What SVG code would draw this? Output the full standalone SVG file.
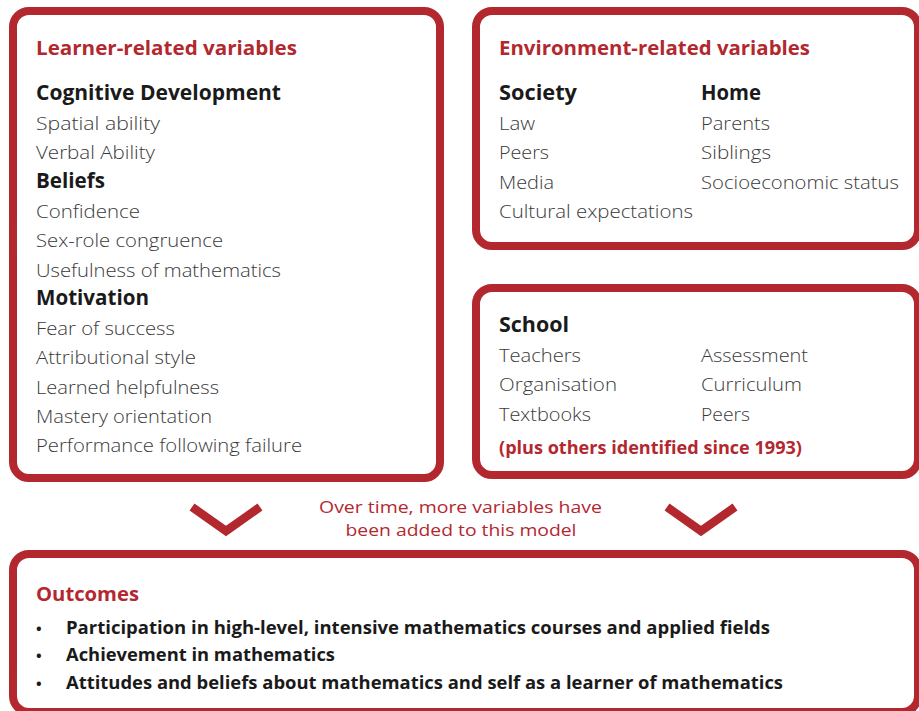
<svg xmlns="http://www.w3.org/2000/svg" width="919" height="711" viewBox="0 0 919 711">
<defs>
<style>
.box{fill:#fff;stroke:#b3282f;stroke-width:8}
.chev{fill:none;stroke:#b3282f;stroke-width:8.5;stroke-linejoin:miter}
text{font-family:"Open Sans",Lato,"Liberation Sans",sans-serif}
.title{font-size:19.5px;font-weight:700;fill:#b3282f}
.head{font-size:20.5px;font-weight:700;fill:#1a1a1a}
.item{font-size:18.5px;font-weight:300;fill:#3a3a3a}
.note{font-size:18px;font-weight:700;fill:#b3282f}
.mid{font-size:17px;font-weight:400;fill:#b3282f;text-anchor:middle}
.out{font-size:18.5px;font-weight:700;fill:#1a1a1a}
.bul{font-size:15px;font-weight:700;fill:#1a1a1a}
</style>
</defs>
<rect width="919" height="711" fill="#fff"/>
<g id="connectors">
<polyline class="chev" points="192,507 226,531 260,507"/>
<polyline class="chev" points="667,507 701,531 735,507"/>
</g>
<g id="caption">
<text class="mid" x="460.5" y="513" textLength="283" lengthAdjust="spacingAndGlyphs">Over time, more variables have</text>
<text class="mid" x="461" y="536" textLength="231" lengthAdjust="spacingAndGlyphs">been added to this model</text>
</g>
<g id="learner">
<rect class="box" x="13" y="11" width="427" height="467" rx="16"/>
<text class="title" x="36" y="55" textLength="261" lengthAdjust="spacingAndGlyphs">Learner-related variables</text>
<text class="head" x="36" y="100" textLength="245" lengthAdjust="spacingAndGlyphs">Cognitive Development</text>
<text class="item" x="36" y="130" textLength="124" lengthAdjust="spacingAndGlyphs">Spatial ability</text>
<text class="item" x="36" y="159" textLength="119" lengthAdjust="spacingAndGlyphs">Verbal Ability</text>
<text class="head" x="36" y="188" textLength="69" lengthAdjust="spacingAndGlyphs">Beliefs</text>
<text class="item" x="36" y="218" textLength="104" lengthAdjust="spacingAndGlyphs">Confidence</text>
<text class="item" x="36" y="247" textLength="187" lengthAdjust="spacingAndGlyphs">Sex-role congruence</text>
<text class="item" x="36" y="277" textLength="245" lengthAdjust="spacingAndGlyphs">Usefulness of mathematics</text>
<text class="head" x="36" y="305" textLength="113" lengthAdjust="spacingAndGlyphs">Motivation</text>
<text class="item" x="36" y="335" textLength="139" lengthAdjust="spacingAndGlyphs">Fear of success</text>
<text class="item" x="36" y="364" textLength="160" lengthAdjust="spacingAndGlyphs">Attributional style</text>
<text class="item" x="36" y="394" textLength="183" lengthAdjust="spacingAndGlyphs">Learned helpfulness</text>
<text class="item" x="36" y="423" textLength="176" lengthAdjust="spacingAndGlyphs">Mastery orientation</text>
<text class="item" x="36" y="452" textLength="266" lengthAdjust="spacingAndGlyphs">Performance following failure</text>
</g>
<g id="environment">
<rect class="box" x="476" y="11" width="442" height="235" rx="16"/>
<text class="title" x="499" y="55" textLength="311" lengthAdjust="spacingAndGlyphs">Environment-related variables</text>
<text class="head" x="499" y="100" textLength="78" lengthAdjust="spacingAndGlyphs">Society</text>
<text class="item" x="499" y="130" textLength="36" lengthAdjust="spacingAndGlyphs">Law</text>
<text class="item" x="499" y="159" textLength="50" lengthAdjust="spacingAndGlyphs">Peers</text>
<text class="item" x="499" y="189" textLength="55" lengthAdjust="spacingAndGlyphs">Media</text>
<text class="item" x="499" y="218" textLength="194" lengthAdjust="spacingAndGlyphs">Cultural expectations</text>
<text class="head" x="701" y="100" textLength="60" lengthAdjust="spacingAndGlyphs">Home</text>
<text class="item" x="701" y="130" textLength="69" lengthAdjust="spacingAndGlyphs">Parents</text>
<text class="item" x="701" y="159" textLength="70" lengthAdjust="spacingAndGlyphs">Siblings</text>
<text class="item" x="701" y="189" textLength="198" lengthAdjust="spacingAndGlyphs">Socioeconomic status</text>
</g>
<g id="school">
<rect class="box" x="476" y="288" width="442" height="187" rx="16"/>
<text class="head" x="499" y="332" textLength="70" lengthAdjust="spacingAndGlyphs">School</text>
<text class="item" x="499" y="362" textLength="82" lengthAdjust="spacingAndGlyphs">Teachers</text>
<text class="item" x="499" y="391" textLength="118" lengthAdjust="spacingAndGlyphs">Organisation</text>
<text class="item" x="499" y="421" textLength="92" lengthAdjust="spacingAndGlyphs">Textbooks</text>
<text class="item" x="701" y="362" textLength="107" lengthAdjust="spacingAndGlyphs">Assessment</text>
<text class="item" x="701" y="391" textLength="101" lengthAdjust="spacingAndGlyphs">Curriculum</text>
<text class="item" x="701" y="421" textLength="49" lengthAdjust="spacingAndGlyphs">Peers</text>
<text class="note" x="499" y="454" textLength="303" lengthAdjust="spacingAndGlyphs">(plus others identified since 1993)</text>
</g>
<g id="outcomes">
<rect class="box" x="13" y="554" width="905" height="158" rx="16"/>
<text class="title" x="36" y="601" textLength="103" lengthAdjust="spacingAndGlyphs">Outcomes</text>
<text class="bul" x="36" y="634">•</text>
<text class="out" x="66" y="634" textLength="704" lengthAdjust="spacingAndGlyphs">Participation in high-level, intensive mathematics courses and applied fields</text>
<text class="bul" x="36" y="661">•</text>
<text class="out" x="66" y="661" textLength="269" lengthAdjust="spacingAndGlyphs">Achievement in mathematics</text>
<text class="bul" x="36" y="689">•</text>
<text class="out" x="66" y="689" textLength="717" lengthAdjust="spacingAndGlyphs">Attitudes and beliefs about mathematics and self as a learner of mathematics</text>
</g>
</svg>
